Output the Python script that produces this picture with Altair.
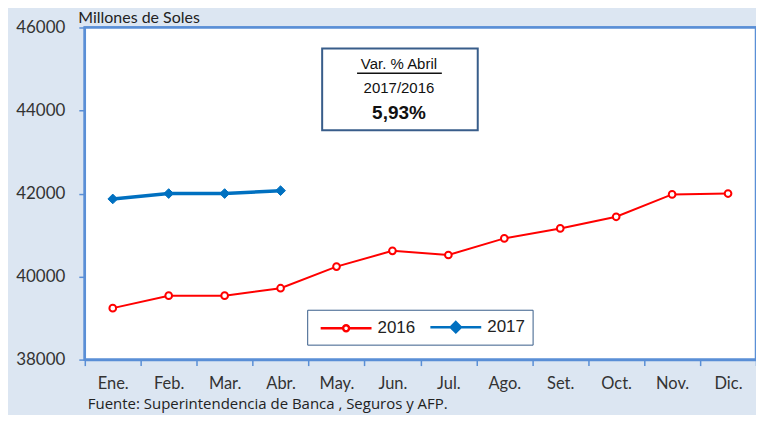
import altair as alt
import pandas as pd

# ---------------- data ----------------
months = ["Ene.", "Feb.", "Mar.", "Abr.", "May.", "Jun.", "Jul.", "Ago.", "Set.", "Oct.", "Nov.", "Dic."]
years = ["2016", "2017"]
values_2016 = [39240, 39540, 39540, 39720, 40240, 40620, 40520, 40920, 41160, 41440, 41980, 42000]
values_2017 = [41870, 42000, 42000, 42070]
y_ticks = [38000, 40000, 42000, 44000, 46000]
y_title = "Millones de Soles"
note_title = "Var. % Abril"
note_period = "2017/2016"
note_value = "5,93%"
source_text = "Fuente: Superintendencia de Banca , Seguros y AFP."

rows = [{"year": "2016", "month": m, "value": v} for m, v in zip(months, values_2016)]
rows += [{"year": "2017", "month": m, "value": v} for m, v in zip(months, values_2017)]
df = pd.DataFrame(rows)

# ---------------- styles ----------------
BG = "#DCE6F2"
AXIS_BLUE = "#5A8FD6"
RED = "#FF0000"
BLUE = "#0070C0"
BOX = "#385D8A"
LABEL = "#333333"

# legend symbols: line + marker (unit = 8.5 px)
PATH16 = ("M-3,0L-0.35,0M0.35,0L3,0M0.35,0A0.35,0.35,0,1,1,-0.35,0"
          "A0.35,0.35,0,1,1,0.35,0Z")
PATH17 = "M-3,0L3,0M0,-0.6L0.6,0L0,0.6L-0.6,0Z"

x_enc = alt.X(
    "month:N", sort=months,
    scale=alt.Scale(type="band", paddingInner=0, paddingOuter=0),
    axis=alt.Axis(title=None, labelAngle=0, tickBand="extent", grid=False,
                  labelFont="Lato", labelFontSize=16.5, labelColor=LABEL,
                  labelPadding=10, tickSize=6, tickColor=AXIS_BLUE, tickWidth=1.5,
                  domainColor=AXIS_BLUE, domainWidth=2.5),
)
y_enc = alt.Y(
    "value:Q",
    scale=alt.Scale(domain=[38000, 46000], nice=False, zero=False),
    axis=alt.Axis(values=y_ticks, format="d", grid=False,
                  title=y_title, titleAngle=0, titleAlign="left", titleBaseline="alphabetic",
                  titleX=-7, titleY=-5, titleFont="Lato", titleFontSize=16,
                  titleFontWeight="normal", titleColor="#222222",
                  labelFont="Lato", labelFontSize=17, labelColor=LABEL, labelPadding=14,
                  tickSize=6, tickColor=AXIS_BLUE, tickWidth=1.5,
                  domainColor=AXIS_BLUE, domainWidth=2.5),
)

base = alt.Chart(df)
one = pd.DataFrame({"t": [""]})

plot_bg = alt.Chart(one).mark_rect(fill="white", stroke=AXIS_BLUE, strokeWidth=2.5).encode(
    x=alt.value(0), x2=alt.value(673), y=alt.value(0), y2=alt.value(333))

line16 = base.transform_filter("datum.year == '2016'").mark_line(
    color=RED, strokeWidth=2).encode(x=x_enc, y=y_enc)
line17 = base.transform_filter("datum.year == '2017'").mark_line(
    color=BLUE, strokeWidth=3.5).encode(x=x_enc, y=y_enc)
pts16 = base.transform_filter("datum.year == '2016'").mark_point(
    shape="circle", filled=True, fill="white", stroke=RED, strokeWidth=2,
    size=45, opacity=1).encode(x=x_enc, y=y_enc)
pts17 = base.transform_filter("datum.year == '2017'").mark_point(
    shape="diamond", filled=True, fill=BLUE, stroke=BLUE, strokeWidth=1,
    size=95, opacity=1).encode(x=x_enc, y=y_enc)

legend = alt.Legend(
    title=None, orient="none", legendX=223, legendY=283, direction="horizontal",
    labelFont="Liberation Sans", labelFontSize=17, labelColor="#222222",
    symbolSize=289, symbolStrokeWidth=2.5, symbolOffset=22, labelOffset=21.5,
    columnPadding=8, padding=7, strokeColor=BOX, fillColor="white",
)
legend_layer = base.transform_filter("datum.value < 0").mark_point(
    filled=True, opacity=1).encode(
    shape=alt.Shape("year:N", scale=alt.Scale(domain=years, range=[PATH16, PATH17]), legend=legend),
    fill=alt.Fill("year:N", scale=alt.Scale(domain=years, range=["white", BLUE]), legend=legend),
    stroke=alt.Stroke("year:N", scale=alt.Scale(domain=years, range=[RED, BLUE]), legend=legend),
)

box = alt.Chart(one).mark_rect(fill="white", stroke=BOX, strokeWidth=2).encode(
    x=alt.value(238), x2=alt.value(394), y=alt.value(21), y2=alt.value(103))
t1 = alt.Chart(pd.DataFrame({"t": [note_title]})).mark_text(
    font="Liberation Sans", fontSize=15, color="#111111", align="center", baseline="alphabetic"
).encode(text="t:N", x=alt.value(315), y=alt.value(42))
underline = alt.Chart(one).mark_rule(color="#111111", strokeWidth=1.5).encode(
    x=alt.value(273), x2=alt.value(358), y=alt.value(46))
t2 = alt.Chart(pd.DataFrame({"t": [note_period]})).mark_text(
    font="Liberation Sans", fontSize=15, color="#111111", align="center", baseline="alphabetic"
).encode(text="t:N", x=alt.value(315), y=alt.value(66))
t3 = alt.Chart(pd.DataFrame({"t": [note_value]})).mark_text(
    font="Liberation Sans", fontSize=19, fontWeight="bold", color="#111111", align="center",
    baseline="alphabetic"
).encode(text="t:N", x=alt.value(315), y=alt.value(92))
source = alt.Chart(pd.DataFrame({"t": [source_text]})).mark_text(
    font="Open Sans", fontSize=15, color="#222222", align="left", baseline="alphabetic"
).encode(text="t:N", x=alt.value(3), y=alt.value(383))

chart = alt.layer(
    plot_bg, line16, line17, pts16, pts17, legend_layer, box, t1, underline, t2, t3, source
).properties(
    width=673, height=333,
    padding={"left": 77, "top": 19, "right": 0, "bottom": 55},
    autosize=alt.AutoSizeParams(type="none"),
    background=BG,
).configure_view(stroke=AXIS_BLUE, strokeWidth=2.5, fill="white")

chart.save("out.html", embed_options={"renderer": "svg", "actions": False})
